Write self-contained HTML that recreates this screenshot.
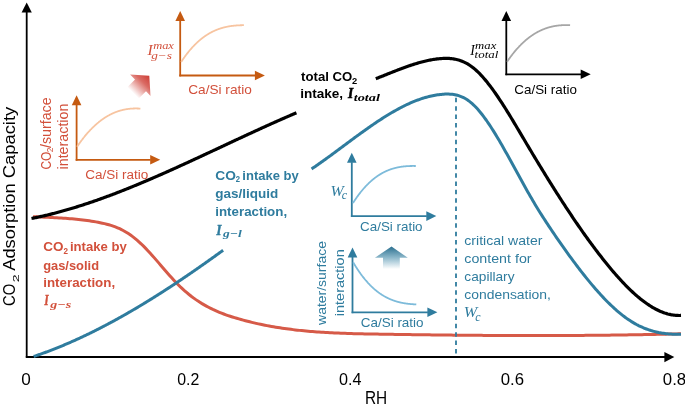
<!DOCTYPE html>
<html><head><meta charset="utf-8"><style>
html,body{margin:0;padding:0;background:#fff;width:685px;height:404px;overflow:hidden}
svg{display:block;will-change:transform}
</style></head><body>
<svg width="685" height="404" viewBox="0 0 685 404">
<rect width="685" height="404" fill="#fff"/>
<line x1="26.7" y1="357.4" x2="26.7" y2="12" stroke="#000" stroke-width="1.8"/>
<polygon points="26.70,2.50 21.60,12.50 31.80,12.50" fill="#000"/>
<line x1="25.8" y1="357.1" x2="665" y2="357.1" stroke="#000" stroke-width="2"/>
<polygon points="674.30,357.10 664.40,352.00 664.40,362.20" fill="#000"/>
<path d="M33.00,216.67 L35.17,216.77 L37.33,216.87 L39.50,216.96 L41.67,217.06 L43.84,217.15 L46.00,217.25 L48.17,217.35 L50.34,217.45 L52.51,217.55 L54.67,217.66 L56.84,217.78 L59.01,217.90 L61.17,218.03 L63.34,218.17 L65.51,218.31 L67.68,218.47 L69.84,218.64 L72.01,218.82 L74.18,219.02 L76.34,219.23 L78.51,219.45 L80.68,219.69 L82.85,219.95 L85.01,220.22 L87.18,220.51 L89.35,220.83 L91.52,221.16 L93.68,221.51 L95.85,221.89 L98.02,222.29 L100.18,222.72 L102.35,223.17 L104.52,223.66 L106.69,224.19 L108.85,224.77 L111.02,225.41 L113.19,226.11 L115.35,226.90 L117.52,227.76 L119.69,228.72 L121.86,229.78 L124.02,230.95 L126.19,232.21 L128.36,233.58 L130.53,235.06 L132.69,236.64 L134.86,238.33 L137.03,240.13 L139.19,242.03 L141.36,244.05 L143.53,246.17 L145.70,248.37 L147.86,250.66 L150.03,253.01 L152.20,255.42 L154.36,257.88 L156.53,260.37 L158.70,262.88 L160.87,265.40 L163.03,267.93 L165.20,270.45 L167.37,272.94 L169.54,275.41 L171.70,277.82 L173.87,280.19 L176.04,282.49 L178.20,284.71 L180.37,286.85 L182.54,288.89 L184.71,290.85 L186.87,292.71 L189.04,294.50 L191.21,296.21 L193.37,297.83 L195.54,299.39 L197.71,300.87 L199.88,302.28 L202.04,303.62 L204.21,304.90 L206.38,306.12 L208.55,307.28 L210.71,308.38 L212.88,309.44 L215.05,310.44 L217.21,311.39 L219.38,312.30 L221.55,313.17 L223.72,314.00 L225.88,314.79 L228.05,315.55 L230.22,316.27 L232.38,316.97 L234.55,317.65 L236.72,318.30 L238.89,318.93 L241.05,319.54 L243.22,320.14 L245.39,320.71 L247.56,321.28 L249.72,321.82 L251.89,322.35 L254.06,322.86 L256.22,323.36 L258.39,323.84 L260.56,324.30 L262.73,324.75 L264.89,325.19 L267.06,325.61 L269.23,326.02 L271.39,326.41 L273.56,326.79 L275.73,327.16 L277.90,327.51 L280.06,327.85 L282.23,328.18 L284.40,328.49 L286.57,328.79 L288.73,329.08 L290.90,329.36 L293.07,329.63 L295.23,329.89 L297.40,330.14 L299.57,330.37 L301.74,330.60 L303.90,330.81 L306.07,331.02 L308.24,331.21 L310.40,331.40 L312.57,331.58 L314.74,331.75 L316.91,331.91 L319.07,332.06 L321.24,332.21 L323.41,332.35 L325.58,332.48 L327.74,332.60 L329.91,332.72 L332.08,332.83 L334.24,332.93 L336.41,333.03 L338.58,333.12 L340.75,333.21 L342.91,333.29 L345.08,333.37 L347.25,333.44 L349.41,333.51 L351.58,333.57 L353.75,333.63 L355.92,333.69 L358.08,333.74 L360.25,333.79 L362.42,333.84 L364.59,333.89 L366.75,333.93 L368.92,333.97 L371.09,334.01 L373.25,334.05 L375.42,334.08 L377.59,334.12 L379.76,334.15 L381.92,334.19 L384.09,334.22 L386.26,334.26 L388.42,334.29 L390.59,334.32 L392.76,334.36 L394.93,334.39 L397.09,334.42 L399.26,334.45 L401.43,334.49 L403.60,334.52 L405.76,334.55 L407.93,334.58 L410.10,334.61 L412.26,334.64 L414.43,334.67 L416.60,334.70 L418.77,334.73 L420.93,334.75 L423.10,334.78 L425.27,334.81 L427.43,334.84 L429.60,334.86 L431.77,334.89 L433.94,334.92 L436.10,334.94 L438.27,334.97 L440.44,334.99 L442.61,335.01 L444.77,335.04 L446.94,335.06 L449.11,335.08 L451.27,335.11 L453.44,335.13 L455.61,335.15 L457.78,335.17 L459.94,335.19 L462.11,335.21 L464.28,335.23 L466.44,335.25 L468.61,335.27 L470.78,335.28 L472.95,335.30 L475.11,335.32 L477.28,335.33 L479.45,335.35 L481.62,335.36 L483.78,335.38 L485.95,335.39 L488.12,335.41 L490.28,335.42 L492.45,335.43 L494.62,335.44 L496.79,335.46 L498.95,335.47 L501.12,335.48 L503.29,335.49 L505.45,335.49 L507.62,335.50 L509.79,335.51 L511.96,335.52 L514.12,335.52 L516.29,335.53 L518.46,335.53 L520.63,335.54 L522.79,335.54 L524.96,335.55 L527.13,335.55 L529.29,335.55 L531.46,335.55 L533.63,335.55 L535.80,335.55 L537.96,335.55 L540.13,335.55 L542.30,335.55 L544.46,335.55 L546.63,335.54 L548.80,335.54 L550.97,335.54 L553.13,335.53 L555.30,335.52 L557.47,335.52 L559.64,335.51 L561.80,335.50 L563.97,335.49 L566.14,335.48 L568.30,335.47 L570.47,335.46 L572.64,335.45 L574.81,335.44 L576.97,335.42 L579.14,335.41 L581.31,335.39 L583.47,335.38 L585.64,335.36 L587.81,335.34 L589.98,335.33 L592.14,335.31 L594.31,335.29 L596.48,335.27 L598.65,335.25 L600.81,335.22 L602.98,335.20 L605.15,335.18 L607.31,335.15 L609.48,335.13 L611.65,335.10 L613.82,335.07 L615.98,335.05 L618.15,335.02 L620.32,334.99 L622.48,334.96 L624.65,334.93 L626.82,334.90 L628.99,334.86 L631.15,334.83 L633.32,334.79 L635.49,334.76 L637.66,334.72 L639.82,334.68 L641.99,334.65 L644.16,334.61 L646.32,334.57 L648.49,334.53 L650.66,334.48 L652.83,334.44 L654.99,334.40 L657.16,334.35 L659.33,334.31 L661.49,334.26 L663.66,334.21 L665.83,334.16 L668.00,334.11 L670.16,334.06 L672.33,334.01 L674.50,333.96 L676.67,333.91 L678.83,333.85 L681.00,333.80" fill="none" stroke="#D65A48" stroke-width="3"/>
<line x1="456" y1="97.8" x2="456" y2="357" stroke="#2F7C9E" stroke-width="1.8" stroke-dasharray="4.5 3.87"/>
<path d="M33.70,356.48 L34.33,356.27 L34.97,356.06 L35.60,355.84 L36.23,355.63 L36.87,355.41 L37.50,355.19 L38.13,354.98 L38.77,354.76 L39.40,354.53 L40.03,354.31 L40.67,354.09 L41.30,353.86 L41.93,353.64 L42.57,353.41 L43.20,353.18 L43.84,352.95 L44.47,352.72 L45.10,352.49 L45.74,352.26 L46.37,352.02 L47.00,351.79 L47.64,351.55 L48.27,351.31 L48.90,351.08 L49.54,350.84 L50.17,350.59 L50.80,350.35 L51.44,350.11 L52.07,349.86 L52.70,349.62 L53.34,349.37 L53.97,349.12 L54.60,348.87 L55.24,348.62 L55.87,348.37 L56.50,348.12 L57.14,347.86 L57.77,347.61 L58.40,347.35 L59.04,347.10 L59.67,346.84 L60.30,346.58 L60.94,346.32 L61.57,346.06 L62.21,345.79 L62.84,345.53 L63.47,345.26 L64.11,345.00 L64.74,344.73 L65.37,344.46 L66.01,344.19 L66.64,343.92 L67.27,343.65 L67.91,343.38 L68.54,343.10 L69.17,342.83 L69.81,342.55 L70.44,342.28 L71.07,342.00 L71.71,341.72 L72.34,341.44 L72.97,341.16 L73.61,340.88 L74.24,340.59 L74.87,340.31 L75.51,340.02 L76.14,339.74 L76.77,339.45 L77.41,339.16 L78.04,338.87 L78.67,338.58 L79.31,338.29 L79.94,337.99 L80.57,337.70 L81.21,337.41 L81.84,337.11 L82.48,336.81 L83.11,336.51 L83.74,336.22 L84.38,335.92 L85.01,335.61 L85.64,335.31 L86.28,335.01 L86.91,334.71 L87.54,334.40 L88.18,334.09 L88.81,333.79 L89.44,333.48 L90.08,333.17 L90.71,332.86 L91.34,332.55 L91.98,332.24 L92.61,331.92 L93.24,331.61 L93.88,331.29 L94.51,330.98 L95.14,330.66 L95.78,330.34 L96.41,330.02 L97.04,329.70 L97.68,329.38 L98.31,329.06 L98.94,328.74 L99.58,328.41 L100.21,328.09 L100.85,327.76 L101.48,327.44 L102.11,327.11 L102.75,326.78 L103.38,326.45 L104.01,326.12 L104.65,325.79 L105.28,325.46 L105.91,325.13 L106.55,324.79 L107.18,324.46 L107.81,324.12 L108.45,323.78 L109.08,323.45 L109.71,323.11 L110.35,322.77 L110.98,322.43 L111.61,322.08 L112.25,321.74 L112.88,321.40 L113.51,321.06 L114.15,320.71 L114.78,320.36 L115.41,320.02 L116.05,319.67 L116.68,319.32 L117.31,318.97 L117.95,318.62 L118.58,318.27 L119.22,317.92 L119.85,317.56 L120.48,317.21 L121.12,316.86 L121.75,316.50 L122.38,316.14 L123.02,315.79 L123.65,315.43 L124.28,315.07 L124.92,314.71 L125.55,314.35 L126.18,313.99 L126.82,313.62 L127.45,313.26 L128.08,312.90 L128.72,312.53 L129.35,312.17 L129.98,311.80 L130.62,311.43 L131.25,311.06 L131.88,310.69 L132.52,310.32 L133.15,309.95 L133.78,309.58 L134.42,309.21 L135.05,308.84 L135.68,308.46 L136.32,308.09 L136.95,307.71 L137.58,307.34 L138.22,306.96 L138.85,306.58 L139.49,306.20 L140.12,305.82 L140.75,305.44 L141.39,305.06 L142.02,304.68 L142.65,304.30 L143.29,303.91 L143.92,303.53 L144.55,303.14 L145.19,302.76 L145.82,302.37 L146.45,301.98 L147.09,301.59 L147.72,301.21 L148.35,300.82 L148.99,300.43 L149.62,300.03 L150.25,299.64 L150.89,299.25 L151.52,298.86 L152.15,298.46 L152.79,298.07 L153.42,297.67 L154.05,297.28 L154.69,296.88 L155.32,296.48 L155.95,296.08 L156.59,295.68 L157.22,295.28 L157.86,294.88 L158.49,294.48 L159.12,294.08 L159.76,293.68 L160.39,293.27 L161.02,292.87 L161.66,292.46 L162.29,292.06 L162.92,291.65 L163.56,291.24 L164.19,290.84 L164.82,290.43 L165.46,290.02 L166.09,289.61 L166.72,289.20 L167.36,288.79 L167.99,288.38 L168.62,287.96 L169.26,287.55 L169.89,287.14 L170.52,286.72 L171.16,286.31 L171.79,285.89 L172.42,285.47 L173.06,285.06 L173.69,284.64 L174.32,284.22 L174.96,283.80 L175.59,283.38 L176.23,282.96 L176.86,282.54 L177.49,282.12 L178.13,281.70 L178.76,281.27 L179.39,280.85 L180.03,280.43 L180.66,280.00 L181.29,279.58 L181.93,279.15 L182.56,278.72 L183.19,278.30 L183.83,277.87 L184.46,277.44 L185.09,277.01 L185.73,276.58 L186.36,276.15 L186.99,275.72 L187.63,275.29 L188.26,274.86 L188.89,274.42 L189.53,273.99 L190.16,273.56 L190.79,273.12 L191.43,272.69 L192.06,272.25 L192.69,271.82 L193.33,271.38 L193.96,270.94 L194.59,270.50 L195.23,270.07 L195.86,269.63 L196.50,269.19 L197.13,268.75 L197.76,268.31 L198.40,267.87 L199.03,267.42 L199.66,266.98 L200.30,266.54 L200.93,266.10 L201.56,265.65 L202.20,265.21 L202.83,264.76 L203.46,264.32 L204.10,263.87 L204.73,263.42 L205.36,262.98 L206.00,262.53 L206.63,262.08 L207.26,261.63 L207.90,261.18 L208.53,260.73 L209.16,260.28 L209.80,259.83 L210.43,259.38 L211.06,258.93 L211.70,258.48 L212.33,258.03 L212.96,257.57 L213.60,257.12 L214.23,256.67 L214.87,256.21 L215.50,255.76 L216.13,255.30 L216.77,254.84 L217.40,254.39 L218.03,253.93 L218.67,253.47 L219.30,253.02 L219.93,252.56 L220.57,252.10 L221.20,251.64 L221.83,251.18 L222.47,250.72 L223.10,250.26" fill="none" stroke="#2F7C9E" stroke-width="3"/>
<path d="M311.60,168.95 L312.84,168.11 L314.07,167.27 L315.31,166.42 L316.54,165.57 L317.78,164.70 L319.01,163.84 L320.25,162.97 L321.48,162.09 L322.72,161.21 L323.95,160.33 L325.19,159.44 L326.43,158.54 L327.66,157.65 L328.90,156.75 L330.13,155.85 L331.37,154.94 L332.60,154.03 L333.84,153.13 L335.07,152.21 L336.31,151.30 L337.54,150.39 L338.78,149.47 L340.02,148.55 L341.25,147.64 L342.49,146.72 L343.72,145.80 L344.96,144.88 L346.19,143.96 L347.43,143.05 L348.66,142.13 L349.90,141.21 L351.13,140.30 L352.37,139.39 L353.61,138.48 L354.84,137.57 L356.08,136.66 L357.31,135.76 L358.55,134.86 L359.78,133.96 L361.02,133.07 L362.25,132.18 L363.49,131.29 L364.72,130.41 L365.96,129.53 L367.20,128.66 L368.43,127.79 L369.67,126.92 L370.90,126.07 L372.14,125.21 L373.37,124.37 L374.61,123.53 L375.84,122.69 L377.08,121.87 L378.31,121.05 L379.55,120.23 L380.79,119.43 L382.02,118.63 L383.26,117.84 L384.49,117.06 L385.73,116.29 L386.96,115.52 L388.20,114.77 L389.43,114.02 L390.67,113.28 L391.90,112.56 L393.14,111.84 L394.38,111.13 L395.61,110.44 L396.85,109.75 L398.08,109.08 L399.32,108.41 L400.55,107.76 L401.79,107.12 L403.02,106.49 L404.26,105.88 L405.49,105.27 L406.73,104.68 L407.97,104.11 L409.20,103.54 L410.44,102.99 L411.67,102.46 L412.91,101.93 L414.14,101.43 L415.38,100.93 L416.61,100.45 L417.85,99.99 L419.08,99.54 L420.32,99.11 L421.56,98.69 L422.79,98.29 L424.03,97.91 L425.26,97.54 L426.50,97.19 L427.73,96.85 L428.97,96.54 L430.20,96.24 L431.44,95.96 L432.67,95.70 L433.91,95.45 L435.15,95.22 L436.38,95.02 L437.62,94.83 L438.85,94.66 L440.09,94.51 L441.32,94.38 L442.56,94.28 L443.79,94.19 L445.03,94.12 L446.26,94.08 L447.50,94.07 L448.74,94.09 L449.97,94.15 L451.21,94.24 L452.44,94.36 L453.68,94.53 L454.91,94.74 L456.15,95.00 L457.38,95.30 L458.62,95.66 L459.85,96.07 L461.09,96.54 L462.33,97.06 L463.56,97.64 L464.80,98.29 L466.03,99.01 L467.27,99.79 L468.50,100.65 L469.74,101.58 L470.97,102.58 L472.21,103.65 L473.44,104.79 L474.68,105.99 L475.92,107.26 L477.15,108.60 L478.39,109.99 L479.62,111.44 L480.86,112.95 L482.09,114.51 L483.33,116.12 L484.56,117.79 L485.80,119.50 L487.03,121.25 L488.27,123.05 L489.51,124.89 L490.74,126.77 L491.98,128.69 L493.21,130.64 L494.45,132.63 L495.68,134.64 L496.92,136.69 L498.15,138.76 L499.39,140.86 L500.62,142.97 L501.86,145.11 L503.09,147.27 L504.33,149.45 L505.57,151.64 L506.80,153.85 L508.04,156.07 L509.27,158.30 L510.51,160.54 L511.74,162.78 L512.98,165.04 L514.21,167.29 L515.45,169.55 L516.68,171.81 L517.92,174.07 L519.16,176.33 L520.39,178.58 L521.63,180.82 L522.86,183.06 L524.10,185.29 L525.33,187.51 L526.57,189.71 L527.80,191.90 L529.04,194.08 L530.27,196.23 L531.51,198.37 L532.75,200.49 L533.98,202.58 L535.22,204.65 L536.45,206.69 L537.69,208.71 L538.92,210.71 L540.16,212.69 L541.39,214.65 L542.63,216.59 L543.86,218.51 L545.10,220.41 L546.34,222.31 L547.57,224.18 L548.81,226.05 L550.04,227.90 L551.28,229.75 L552.51,231.58 L553.75,233.41 L554.98,235.23 L556.22,237.04 L557.45,238.84 L558.69,240.63 L559.93,242.41 L561.16,244.18 L562.40,245.94 L563.63,247.69 L564.87,249.43 L566.10,251.16 L567.34,252.88 L568.57,254.59 L569.81,256.29 L571.04,257.98 L572.28,259.65 L573.52,261.32 L574.75,262.98 L575.99,264.62 L577.22,266.25 L578.46,267.87 L579.69,269.48 L580.93,271.08 L582.16,272.66 L583.40,274.23 L584.63,275.79 L585.87,277.34 L587.11,278.87 L588.34,280.39 L589.58,281.89 L590.81,283.38 L592.05,284.85 L593.28,286.31 L594.52,287.75 L595.75,289.17 L596.99,290.58 L598.22,291.97 L599.46,293.35 L600.70,294.70 L601.93,296.04 L603.17,297.36 L604.40,298.66 L605.64,299.94 L606.87,301.20 L608.11,302.44 L609.34,303.66 L610.58,304.85 L611.81,306.03 L613.05,307.19 L614.29,308.32 L615.52,309.43 L616.76,310.52 L617.99,311.58 L619.23,312.62 L620.46,313.64 L621.70,314.63 L622.93,315.60 L624.17,316.54 L625.40,317.46 L626.64,318.35 L627.88,319.21 L629.11,320.05 L630.35,320.86 L631.58,321.65 L632.82,322.40 L634.05,323.13 L635.29,323.83 L636.52,324.51 L637.76,325.16 L638.99,325.78 L640.23,326.37 L641.47,326.94 L642.70,327.49 L643.94,328.01 L645.17,328.51 L646.41,328.98 L647.64,329.43 L648.88,329.86 L650.11,330.26 L651.35,330.64 L652.58,331.01 L653.82,331.34 L655.06,331.66 L656.29,331.96 L657.53,332.24 L658.76,332.50 L660.00,332.73 L661.23,332.95 L662.47,333.16 L663.70,333.34 L664.94,333.50 L666.17,333.65 L667.41,333.78 L668.65,333.89 L669.88,333.99 L671.12,334.07 L672.35,334.14 L673.59,334.19 L674.82,334.23 L676.06,334.25 L677.29,334.26 L678.53,334.26 L679.76,334.24 L681.00,334.21" fill="none" stroke="#2F7C9E" stroke-width="3"/>
<path d="M31.50,218.47 L32.39,218.30 L33.27,218.12 L34.16,217.94 L35.04,217.76 L35.93,217.57 L36.82,217.39 L37.70,217.20 L38.59,217.01 L39.47,216.81 L40.36,216.62 L41.25,216.42 L42.13,216.22 L43.02,216.02 L43.90,215.82 L44.79,215.61 L45.68,215.40 L46.56,215.19 L47.45,214.98 L48.33,214.77 L49.22,214.55 L50.11,214.33 L50.99,214.11 L51.88,213.89 L52.76,213.66 L53.65,213.44 L54.53,213.21 L55.42,212.98 L56.31,212.75 L57.19,212.51 L58.08,212.28 L58.96,212.04 L59.85,211.80 L60.74,211.56 L61.62,211.31 L62.51,211.07 L63.39,210.82 L64.28,210.57 L65.17,210.32 L66.05,210.07 L66.94,209.81 L67.82,209.56 L68.71,209.30 L69.60,209.04 L70.48,208.78 L71.37,208.51 L72.25,208.25 L73.14,207.98 L74.03,207.71 L74.91,207.44 L75.80,207.17 L76.68,206.89 L77.57,206.62 L78.46,206.34 L79.34,206.06 L80.23,205.78 L81.11,205.50 L82.00,205.21 L82.89,204.93 L83.77,204.64 L84.66,204.35 L85.54,204.06 L86.43,203.77 L87.32,203.47 L88.20,203.18 L89.09,202.88 L89.97,202.58 L90.86,202.28 L91.74,201.98 L92.63,201.68 L93.52,201.37 L94.40,201.06 L95.29,200.76 L96.17,200.45 L97.06,200.14 L97.95,199.82 L98.83,199.51 L99.72,199.19 L100.60,198.88 L101.49,198.56 L102.38,198.24 L103.26,197.92 L104.15,197.60 L105.03,197.27 L105.92,196.95 L106.81,196.62 L107.69,196.29 L108.58,195.97 L109.46,195.64 L110.35,195.30 L111.24,194.97 L112.12,194.64 L113.01,194.30 L113.89,193.96 L114.78,193.63 L115.67,193.29 L116.55,192.95 L117.44,192.60 L118.32,192.26 L119.21,191.92 L120.10,191.57 L120.98,191.22 L121.87,190.88 L122.75,190.53 L123.64,190.18 L124.53,189.83 L125.41,189.47 L126.30,189.12 L127.18,188.77 L128.07,188.41 L128.95,188.05 L129.84,187.69 L130.73,187.34 L131.61,186.97 L132.50,186.61 L133.38,186.25 L134.27,185.89 L135.16,185.52 L136.04,185.16 L136.93,184.79 L137.81,184.42 L138.70,184.06 L139.59,183.69 L140.47,183.32 L141.36,182.95 L142.24,182.57 L143.13,182.20 L144.02,181.83 L144.90,181.45 L145.79,181.08 L146.67,180.70 L147.56,180.32 L148.45,179.94 L149.33,179.56 L150.22,179.18 L151.10,178.80 L151.99,178.42 L152.88,178.04 L153.76,177.65 L154.65,177.27 L155.53,176.88 L156.42,176.50 L157.31,176.11 L158.19,175.72 L159.08,175.34 L159.96,174.95 L160.85,174.56 L161.74,174.17 L162.62,173.78 L163.51,173.39 L164.39,172.99 L165.28,172.60 L166.16,172.21 L167.05,171.81 L167.94,171.42 L168.82,171.02 L169.71,170.62 L170.59,170.23 L171.48,169.83 L172.37,169.43 L173.25,169.03 L174.14,168.63 L175.02,168.24 L175.91,167.83 L176.80,167.43 L177.68,167.03 L178.57,166.63 L179.45,166.23 L180.34,165.83 L181.23,165.42 L182.11,165.02 L183.00,164.61 L183.88,164.21 L184.77,163.80 L185.66,163.40 L186.54,162.99 L187.43,162.59 L188.31,162.18 L189.20,161.77 L190.09,161.37 L190.97,160.96 L191.86,160.55 L192.74,160.14 L193.63,159.73 L194.52,159.32 L195.40,158.91 L196.29,158.50 L197.17,158.09 L198.06,157.68 L198.95,157.27 L199.83,156.86 L200.72,156.45 L201.60,156.04 L202.49,155.63 L203.37,155.21 L204.26,154.80 L205.15,154.39 L206.03,153.98 L206.92,153.56 L207.80,153.15 L208.69,152.74 L209.58,152.33 L210.46,151.91 L211.35,151.50 L212.23,151.08 L213.12,150.67 L214.01,150.26 L214.89,149.84 L215.78,149.43 L216.66,149.02 L217.55,148.60 L218.44,148.19 L219.32,147.77 L220.21,147.36 L221.09,146.94 L221.98,146.53 L222.87,146.12 L223.75,145.70 L224.64,145.29 L225.52,144.87 L226.41,144.46 L227.30,144.05 L228.18,143.63 L229.07,143.22 L229.95,142.80 L230.84,142.39 L231.73,141.98 L232.61,141.56 L233.50,141.15 L234.38,140.74 L235.27,140.32 L236.16,139.91 L237.04,139.50 L237.93,139.09 L238.81,138.67 L239.70,138.26 L240.58,137.85 L241.47,137.44 L242.36,137.03 L243.24,136.62 L244.13,136.21 L245.01,135.80 L245.90,135.39 L246.79,134.98 L247.67,134.57 L248.56,134.16 L249.44,133.75 L250.33,133.34 L251.22,132.93 L252.10,132.52 L252.99,132.11 L253.87,131.71 L254.76,131.30 L255.65,130.89 L256.53,130.49 L257.42,130.08 L258.30,129.68 L259.19,129.27 L260.08,128.87 L260.96,128.46 L261.85,128.06 L262.73,127.66 L263.62,127.26 L264.51,126.85 L265.39,126.45 L266.28,126.05 L267.16,125.65 L268.05,125.25 L268.94,124.85 L269.82,124.45 L270.71,124.05 L271.59,123.66 L272.48,123.26 L273.37,122.86 L274.25,122.47 L275.14,122.07 L276.02,121.68 L276.91,121.28 L277.79,120.89 L278.68,120.50 L279.57,120.11 L280.45,119.72 L281.34,119.33 L282.22,118.94 L283.11,118.55 L284.00,118.16 L284.88,117.77 L285.77,117.38 L286.65,117.00 L287.54,116.61 L288.43,116.23 L289.31,115.84 L290.20,115.46 L291.08,115.08 L291.97,114.70 L292.86,114.32 L293.74,113.94 L294.63,113.56 L295.51,113.18 L296.40,112.81" fill="none" stroke="#000" stroke-width="3.2"/>
<path d="M375.80,78.71 L376.82,78.31 L377.84,77.91 L378.86,77.51 L379.88,77.11 L380.90,76.70 L381.92,76.30 L382.95,75.89 L383.97,75.49 L384.99,75.08 L386.01,74.67 L387.03,74.26 L388.05,73.85 L389.07,73.45 L390.09,73.04 L391.11,72.63 L392.13,72.23 L393.15,71.82 L394.17,71.42 L395.19,71.02 L396.21,70.62 L397.24,70.23 L398.26,69.83 L399.28,69.44 L400.30,69.05 L401.32,68.67 L402.34,68.28 L403.36,67.90 L404.38,67.53 L405.40,67.16 L406.42,66.79 L407.44,66.43 L408.46,66.07 L409.48,65.72 L410.51,65.38 L411.53,65.03 L412.55,64.70 L413.57,64.37 L414.59,64.04 L415.61,63.73 L416.63,63.42 L417.65,63.11 L418.67,62.82 L419.69,62.53 L420.71,62.25 L421.73,61.97 L422.75,61.71 L423.77,61.45 L424.80,61.20 L425.82,60.96 L426.84,60.73 L427.86,60.51 L428.88,60.29 L429.90,60.09 L430.92,59.90 L431.94,59.71 L432.96,59.54 L433.98,59.38 L435.00,59.23 L436.02,59.09 L437.04,58.96 L438.06,58.84 L439.09,58.73 L440.11,58.64 L441.13,58.56 L442.15,58.49 L443.17,58.44 L444.19,58.40 L445.21,58.37 L446.23,58.37 L447.25,58.38 L448.27,58.41 L449.29,58.47 L450.31,58.54 L451.33,58.63 L452.36,58.75 L453.38,58.89 L454.40,59.06 L455.42,59.25 L456.44,59.48 L457.46,59.72 L458.48,60.00 L459.50,60.31 L460.52,60.65 L461.54,61.02 L462.56,61.42 L463.58,61.86 L464.60,62.33 L465.62,62.84 L466.65,63.38 L467.67,63.96 L468.69,64.59 L469.71,65.25 L470.73,65.95 L471.75,66.69 L472.77,67.47 L473.79,68.29 L474.81,69.15 L475.83,70.05 L476.85,70.98 L477.87,71.95 L478.89,72.95 L479.92,73.98 L480.94,75.05 L481.96,76.15 L482.98,77.29 L484.00,78.45 L485.02,79.64 L486.04,80.86 L487.06,82.11 L488.08,83.39 L489.10,84.70 L490.12,86.03 L491.14,87.38 L492.16,88.76 L493.18,90.16 L494.21,91.59 L495.23,93.03 L496.25,94.50 L497.27,95.99 L498.29,97.49 L499.31,99.02 L500.33,100.56 L501.35,102.12 L502.37,103.70 L503.39,105.29 L504.41,106.89 L505.43,108.51 L506.45,110.14 L507.47,111.79 L508.50,113.44 L509.52,115.11 L510.54,116.78 L511.56,118.46 L512.58,120.15 L513.60,121.85 L514.62,123.56 L515.64,125.27 L516.66,126.98 L517.68,128.70 L518.70,130.42 L519.72,132.15 L520.74,133.87 L521.77,135.60 L522.79,137.32 L523.81,139.05 L524.83,140.77 L525.85,142.49 L526.87,144.21 L527.89,145.92 L528.91,147.63 L529.93,149.34 L530.95,151.05 L531.97,152.75 L532.99,154.45 L534.01,156.15 L535.03,157.85 L536.06,159.54 L537.08,161.22 L538.10,162.91 L539.12,164.59 L540.14,166.27 L541.16,167.94 L542.18,169.61 L543.20,171.27 L544.22,172.94 L545.24,174.59 L546.26,176.25 L547.28,177.90 L548.30,179.54 L549.33,181.18 L550.35,182.82 L551.37,184.45 L552.39,186.07 L553.41,187.70 L554.43,189.31 L555.45,190.93 L556.47,192.53 L557.49,194.14 L558.51,195.73 L559.53,197.33 L560.55,198.91 L561.57,200.50 L562.59,202.07 L563.62,203.64 L564.64,205.21 L565.66,206.77 L566.68,208.32 L567.70,209.87 L568.72,211.41 L569.74,212.94 L570.76,214.47 L571.78,216.00 L572.80,217.52 L573.82,219.03 L574.84,220.53 L575.86,222.03 L576.88,223.52 L577.91,225.00 L578.93,226.48 L579.95,227.95 L580.97,229.42 L581.99,230.87 L583.01,232.32 L584.03,233.77 L585.05,235.20 L586.07,236.63 L587.09,238.05 L588.11,239.46 L589.13,240.87 L590.15,242.27 L591.18,243.66 L592.20,245.04 L593.22,246.41 L594.24,247.78 L595.26,249.14 L596.28,250.49 L597.30,251.83 L598.32,253.16 L599.34,254.49 L600.36,255.81 L601.38,257.11 L602.40,258.41 L603.42,259.70 L604.44,260.99 L605.47,262.26 L606.49,263.52 L607.51,264.78 L608.53,266.02 L609.55,267.26 L610.57,268.49 L611.59,269.70 L612.61,270.91 L613.63,272.10 L614.65,273.29 L615.67,274.46 L616.69,275.62 L617.71,276.77 L618.74,277.91 L619.76,279.04 L620.78,280.15 L621.80,281.25 L622.82,282.34 L623.84,283.41 L624.86,284.48 L625.88,285.53 L626.90,286.56 L627.92,287.58 L628.94,288.59 L629.96,289.58 L630.98,290.56 L632.00,291.52 L633.03,292.47 L634.05,293.40 L635.07,294.32 L636.09,295.22 L637.11,296.10 L638.13,296.97 L639.15,297.82 L640.17,298.66 L641.19,299.47 L642.21,300.27 L643.23,301.06 L644.25,301.82 L645.27,302.57 L646.29,303.30 L647.32,304.01 L648.34,304.70 L649.36,305.37 L650.38,306.02 L651.40,306.65 L652.42,307.27 L653.44,307.86 L654.46,308.43 L655.48,308.99 L656.50,309.52 L657.52,310.03 L658.54,310.52 L659.56,310.99 L660.59,311.43 L661.61,311.86 L662.63,312.26 L663.65,312.64 L664.67,313.00 L665.69,313.33 L666.71,313.64 L667.73,313.93 L668.75,314.19 L669.77,314.43 L670.79,314.65 L671.81,314.84 L672.83,315.01 L673.85,315.15 L674.88,315.27 L675.90,315.36 L676.92,315.42 L677.94,315.46 L678.96,315.48 L679.98,315.47 L681.00,315.43" fill="none" stroke="#000" stroke-width="3.2"/>
<line x1="76.6" y1="160.70000000000002" x2="76.6" y2="104.8" stroke="#C55A11" stroke-width="1.8"/>
<polygon points="76.60,95.30 71.80,105.30 81.40,105.30" fill="#C55A11"/>
<line x1="75.69999999999999" y1="159.8" x2="150.7" y2="159.8" stroke="#C55A11" stroke-width="1.8"/>
<polygon points="160.20,159.80 150.20,155.00 150.20,164.60" fill="#C55A11"/>
<path d="M77.00,146.82 L77.21,146.50 L77.42,146.19 L77.64,145.88 L77.85,145.57 L78.06,145.26 L78.27,144.96 L78.48,144.65 L78.70,144.35 L78.91,144.05 L79.12,143.75 L79.33,143.45 L79.54,143.15 L79.76,142.85 L79.97,142.56 L80.18,142.27 L80.39,141.98 L80.60,141.69 L80.82,141.40 L81.03,141.11 L81.24,140.83 L81.45,140.54 L81.66,140.26 L81.88,139.98 L82.09,139.70 L82.30,139.42 L82.51,139.15 L82.73,138.87 L82.94,138.60 L83.15,138.33 L83.36,138.06 L83.57,137.79 L83.79,137.52 L84.00,137.25 L84.21,136.99 L84.42,136.72 L84.63,136.46 L84.85,136.20 L85.06,135.94 L85.27,135.69 L85.48,135.43 L85.69,135.18 L85.91,134.92 L86.12,134.67 L86.33,134.42 L86.54,134.17 L86.75,133.92 L86.97,133.68 L87.18,133.43 L87.39,133.19 L87.60,132.95 L87.81,132.71 L88.03,132.47 L88.24,132.23 L88.45,132.00 L88.66,131.76 L88.87,131.53 L89.09,131.29 L89.30,131.06 L89.51,130.83 L89.72,130.61 L89.93,130.38 L90.15,130.15 L90.36,129.93 L90.57,129.71 L90.78,129.49 L90.99,129.27 L91.21,129.05 L91.42,128.83 L91.63,128.62 L91.84,128.40 L92.05,128.19 L92.27,127.98 L92.48,127.77 L92.69,127.56 L92.90,127.35 L93.12,127.14 L93.33,126.94 L93.54,126.73 L93.75,126.53 L93.96,126.33 L94.18,126.13 L94.39,125.93 L94.60,125.74 L94.81,125.54 L95.02,125.35 L95.24,125.15 L95.45,124.96 L95.66,124.77 L95.87,124.58 L96.08,124.39 L96.30,124.20 L96.51,124.02 L96.72,123.83 L96.93,123.65 L97.14,123.47 L97.36,123.29 L97.57,123.11 L97.78,122.93 L97.99,122.76 L98.20,122.58 L98.42,122.41 L98.63,122.23 L98.84,122.06 L99.05,121.89 L99.26,121.72 L99.48,121.55 L99.69,121.39 L99.90,121.22 L100.11,121.06 L100.32,120.89 L100.54,120.73 L100.75,120.57 L100.96,120.41 L101.17,120.25 L101.38,120.10 L101.60,119.94 L101.81,119.79 L102.02,119.63 L102.23,119.48 L102.44,119.33 L102.66,119.18 L102.87,119.03 L103.08,118.88 L103.29,118.74 L103.51,118.59 L103.72,118.45 L103.93,118.30 L104.14,118.16 L104.35,118.02 L104.57,117.88 L104.78,117.75 L104.99,117.61 L105.20,117.47 L105.41,117.34 L105.63,117.20 L105.84,117.07 L106.05,116.94 L106.26,116.81 L106.47,116.68 L106.69,116.55 L106.90,116.43 L107.11,116.30 L107.32,116.18 L107.53,116.05 L107.75,115.93 L107.96,115.81 L108.17,115.69 L108.38,115.57 L108.59,115.45 L108.81,115.34 L109.02,115.22 L109.23,115.11 L109.44,114.99 L109.65,114.88 L109.87,114.77 L110.08,114.66 L110.29,114.55 L110.50,114.44 L110.71,114.34 L110.93,114.23 L111.14,114.13 L111.35,114.02 L111.56,113.92 L111.77,113.82 L111.99,113.72 L112.20,113.62 L112.41,113.52 L112.62,113.42 L112.83,113.33 L113.05,113.23 L113.26,113.14 L113.47,113.05 L113.68,112.95 L113.89,112.86 L114.11,112.77 L114.32,112.68 L114.53,112.60 L114.74,112.51 L114.96,112.42 L115.17,112.34 L115.38,112.25 L115.59,112.17 L115.80,112.09 L116.02,112.01 L116.23,111.93 L116.44,111.85 L116.65,111.77 L116.86,111.70 L117.08,111.62 L117.29,111.55 L117.50,111.47 L117.71,111.40 L117.92,111.33 L118.14,111.26 L118.35,111.19 L118.56,111.12 L118.77,111.05 L118.98,110.98 L119.20,110.92 L119.41,110.85 L119.62,110.79 L119.83,110.72 L120.04,110.66 L120.26,110.60 L120.47,110.54 L120.68,110.48 L120.89,110.42 L121.10,110.36 L121.32,110.31 L121.53,110.25 L121.74,110.20 L121.95,110.14 L122.16,110.09 L122.38,110.04 L122.59,109.98 L122.80,109.93 L123.01,109.89 L123.22,109.84 L123.44,109.79 L123.65,109.74 L123.86,109.70 L124.07,109.65 L124.28,109.61 L124.50,109.56 L124.71,109.52 L124.92,109.48 L125.13,109.44 L125.35,109.40 L125.56,109.36 L125.77,109.32 L125.98,109.29 L126.19,109.25 L126.41,109.22 L126.62,109.18 L126.83,109.15 L127.04,109.11 L127.25,109.08 L127.47,109.05 L127.68,109.02 L127.89,108.99 L128.10,108.96 L128.31,108.94 L128.53,108.91 L128.74,108.88 L128.95,108.86 L129.16,108.83 L129.37,108.81 L129.59,108.79 L129.80,108.76 L130.01,108.74 L130.22,108.72 L130.43,108.70 L130.65,108.68 L130.86,108.67 L131.07,108.65 L131.28,108.63 L131.49,108.62 L131.71,108.60 L131.92,108.59 L132.13,108.58 L132.34,108.56 L132.55,108.55 L132.77,108.54 L132.98,108.53 L133.19,108.52 L133.40,108.51 L133.61,108.50 L133.83,108.50 L134.04,108.49 L134.25,108.48 L134.46,108.48 L134.67,108.47 L134.89,108.47 L135.10,108.47 L135.31,108.47 L135.52,108.47 L135.74,108.46 L135.95,108.46 L136.16,108.47 L136.37,108.47 L136.58,108.47 L136.80,108.47 L137.01,108.48 L137.22,108.48 L137.43,108.49 L137.64,108.49 L137.86,108.50 L138.07,108.51 L138.28,108.51 L138.49,108.52 L138.70,108.53 L138.92,108.54 L139.13,108.55 L139.34,108.56 L139.55,108.58 L139.76,108.59 L139.98,108.60 L140.19,108.62 L140.40,108.63" fill="none" stroke="#F7C4A0" stroke-width="1.8"/>
<line x1="180.2" y1="76.4" x2="180.2" y2="20.6" stroke="#C55A11" stroke-width="1.8"/>
<polygon points="180.20,11.10 175.40,21.10 185.00,21.10" fill="#C55A11"/>
<line x1="179.29999999999998" y1="75.5" x2="255.39999999999998" y2="75.5" stroke="#C55A11" stroke-width="1.8"/>
<polygon points="264.90,75.50 254.90,70.70 254.90,80.30" fill="#C55A11"/>
<path d="M181.20,61.89 L181.41,61.57 L181.62,61.25 L181.83,60.94 L182.04,60.63 L182.25,60.32 L182.46,60.01 L182.67,59.70 L182.88,59.39 L183.09,59.09 L183.30,58.79 L183.51,58.49 L183.72,58.19 L183.93,57.89 L184.14,57.60 L184.35,57.30 L184.56,57.01 L184.76,56.72 L184.97,56.43 L185.18,56.15 L185.39,55.86 L185.60,55.58 L185.81,55.30 L186.02,55.02 L186.23,54.74 L186.44,54.47 L186.65,54.19 L186.86,53.92 L187.07,53.65 L187.28,53.38 L187.49,53.11 L187.70,52.84 L187.91,52.58 L188.12,52.32 L188.33,52.06 L188.54,51.80 L188.75,51.54 L188.96,51.28 L189.17,51.03 L189.38,50.77 L189.59,50.52 L189.80,50.27 L190.01,50.03 L190.22,49.78 L190.43,49.53 L190.64,49.29 L190.85,49.05 L191.06,48.81 L191.27,48.57 L191.48,48.33 L191.68,48.10 L191.89,47.86 L192.10,47.63 L192.31,47.40 L192.52,47.17 L192.73,46.94 L192.94,46.72 L193.15,46.49 L193.36,46.27 L193.57,46.05 L193.78,45.83 L193.99,45.61 L194.20,45.39 L194.41,45.18 L194.62,44.96 L194.83,44.75 L195.04,44.54 L195.25,44.33 L195.46,44.12 L195.67,43.92 L195.88,43.71 L196.09,43.51 L196.30,43.30 L196.51,43.10 L196.72,42.90 L196.93,42.71 L197.14,42.51 L197.35,42.32 L197.56,42.12 L197.77,41.93 L197.98,41.74 L198.19,41.55 L198.40,41.36 L198.61,41.17 L198.81,40.99 L199.02,40.81 L199.23,40.62 L199.44,40.44 L199.65,40.26 L199.86,40.08 L200.07,39.91 L200.28,39.73 L200.49,39.56 L200.70,39.39 L200.91,39.21 L201.12,39.04 L201.33,38.88 L201.54,38.71 L201.75,38.54 L201.96,38.38 L202.17,38.21 L202.38,38.05 L202.59,37.89 L202.80,37.73 L203.01,37.57 L203.22,37.42 L203.43,37.26 L203.64,37.11 L203.85,36.95 L204.06,36.80 L204.27,36.65 L204.48,36.50 L204.69,36.35 L204.90,36.21 L205.11,36.06 L205.32,35.92 L205.53,35.77 L205.73,35.63 L205.94,35.49 L206.15,35.35 L206.36,35.21 L206.57,35.08 L206.78,34.94 L206.99,34.81 L207.20,34.67 L207.41,34.54 L207.62,34.41 L207.83,34.28 L208.04,34.15 L208.25,34.02 L208.46,33.90 L208.67,33.77 L208.88,33.65 L209.09,33.53 L209.30,33.40 L209.51,33.28 L209.72,33.16 L209.93,33.05 L210.14,32.93 L210.35,32.81 L210.56,32.70 L210.77,32.58 L210.98,32.47 L211.19,32.36 L211.40,32.25 L211.61,32.14 L211.82,32.03 L212.03,31.92 L212.24,31.82 L212.45,31.71 L212.65,31.61 L212.86,31.51 L213.07,31.40 L213.28,31.30 L213.49,31.20 L213.70,31.11 L213.91,31.01 L214.12,30.91 L214.33,30.82 L214.54,30.72 L214.75,30.63 L214.96,30.53 L215.17,30.44 L215.38,30.35 L215.59,30.26 L215.80,30.17 L216.01,30.09 L216.22,30.00 L216.43,29.91 L216.64,29.83 L216.85,29.75 L217.06,29.66 L217.27,29.58 L217.48,29.50 L217.69,29.42 L217.90,29.34 L218.11,29.26 L218.32,29.19 L218.53,29.11 L218.74,29.03 L218.95,28.96 L219.16,28.89 L219.37,28.81 L219.57,28.74 L219.78,28.67 L219.99,28.60 L220.20,28.53 L220.41,28.46 L220.62,28.40 L220.83,28.33 L221.04,28.27 L221.25,28.20 L221.46,28.14 L221.67,28.07 L221.88,28.01 L222.09,27.95 L222.30,27.89 L222.51,27.83 L222.72,27.77 L222.93,27.71 L223.14,27.66 L223.35,27.60 L223.56,27.54 L223.77,27.49 L223.98,27.44 L224.19,27.38 L224.40,27.33 L224.61,27.28 L224.82,27.23 L225.03,27.18 L225.24,27.13 L225.45,27.08 L225.66,27.03 L225.87,26.99 L226.08,26.94 L226.29,26.89 L226.49,26.85 L226.70,26.81 L226.91,26.76 L227.12,26.72 L227.33,26.68 L227.54,26.64 L227.75,26.60 L227.96,26.56 L228.17,26.52 L228.38,26.48 L228.59,26.44 L228.80,26.40 L229.01,26.37 L229.22,26.33 L229.43,26.30 L229.64,26.26 L229.85,26.23 L230.06,26.20 L230.27,26.16 L230.48,26.13 L230.69,26.10 L230.90,26.07 L231.11,26.04 L231.32,26.01 L231.53,25.98 L231.74,25.95 L231.95,25.93 L232.16,25.90 L232.37,25.87 L232.58,25.85 L232.79,25.82 L233.00,25.80 L233.21,25.77 L233.42,25.75 L233.62,25.73 L233.83,25.71 L234.04,25.68 L234.25,25.66 L234.46,25.64 L234.67,25.62 L234.88,25.60 L235.09,25.58 L235.30,25.57 L235.51,25.55 L235.72,25.53 L235.93,25.51 L236.14,25.50 L236.35,25.48 L236.56,25.47 L236.77,25.45 L236.98,25.44 L237.19,25.42 L237.40,25.41 L237.61,25.40 L237.82,25.38 L238.03,25.37 L238.24,25.36 L238.45,25.35 L238.66,25.34 L238.87,25.33 L239.08,25.32 L239.29,25.31 L239.50,25.30 L239.71,25.29 L239.92,25.28 L240.13,25.27 L240.34,25.27 L240.54,25.26 L240.75,25.25 L240.96,25.25 L241.17,25.24 L241.38,25.24 L241.59,25.23 L241.80,25.23 L242.01,25.22 L242.22,25.22 L242.43,25.21 L242.64,25.21 L242.85,25.21 L243.06,25.20 L243.27,25.20 L243.48,25.20 L243.69,25.20 L243.90,25.20" fill="none" stroke="#F7C4A0" stroke-width="1.8"/>
<line x1="506.3" y1="75.2" x2="506.3" y2="20.6" stroke="#000" stroke-width="1.8"/>
<polygon points="506.30,11.10 501.50,21.10 511.10,21.10" fill="#000"/>
<line x1="505.40000000000003" y1="74.3" x2="581.2" y2="74.3" stroke="#000" stroke-width="1.8"/>
<polygon points="590.70,74.30 580.70,69.50 580.70,79.10" fill="#000"/>
<path d="M507.00,61.83 L507.21,61.52 L507.42,61.21 L507.63,60.90 L507.84,60.60 L508.06,60.30 L508.27,59.99 L508.48,59.69 L508.69,59.39 L508.90,59.10 L509.11,58.80 L509.32,58.51 L509.53,58.22 L509.74,57.92 L509.95,57.64 L510.17,57.35 L510.38,57.06 L510.59,56.78 L510.80,56.49 L511.01,56.21 L511.22,55.93 L511.43,55.66 L511.64,55.38 L511.85,55.10 L512.06,54.83 L512.28,54.56 L512.49,54.29 L512.70,54.02 L512.91,53.75 L513.12,53.49 L513.33,53.22 L513.54,52.96 L513.75,52.70 L513.96,52.44 L514.18,52.18 L514.39,51.92 L514.60,51.67 L514.81,51.41 L515.02,51.16 L515.23,50.91 L515.44,50.66 L515.65,50.41 L515.86,50.17 L516.07,49.92 L516.29,49.68 L516.50,49.44 L516.71,49.19 L516.92,48.96 L517.13,48.72 L517.34,48.48 L517.55,48.25 L517.76,48.01 L517.97,47.78 L518.18,47.55 L518.40,47.32 L518.61,47.09 L518.82,46.87 L519.03,46.64 L519.24,46.42 L519.45,46.20 L519.66,45.98 L519.87,45.76 L520.08,45.54 L520.30,45.33 L520.51,45.11 L520.72,44.90 L520.93,44.68 L521.14,44.47 L521.35,44.26 L521.56,44.06 L521.77,43.85 L521.98,43.64 L522.19,43.44 L522.41,43.24 L522.62,43.04 L522.83,42.84 L523.04,42.64 L523.25,42.44 L523.46,42.25 L523.67,42.05 L523.88,41.86 L524.09,41.67 L524.31,41.48 L524.52,41.29 L524.73,41.10 L524.94,40.91 L525.15,40.73 L525.36,40.54 L525.57,40.36 L525.78,40.18 L525.99,40.00 L526.20,39.82 L526.42,39.65 L526.63,39.47 L526.84,39.29 L527.05,39.12 L527.26,38.95 L527.47,38.78 L527.68,38.61 L527.89,38.44 L528.10,38.27 L528.31,38.11 L528.53,37.94 L528.74,37.78 L528.95,37.62 L529.16,37.46 L529.37,37.30 L529.58,37.14 L529.79,36.98 L530.00,36.82 L530.21,36.67 L530.43,36.52 L530.64,36.36 L530.85,36.21 L531.06,36.06 L531.27,35.91 L531.48,35.77 L531.69,35.62 L531.90,35.48 L532.11,35.33 L532.32,35.19 L532.54,35.05 L532.75,34.91 L532.96,34.77 L533.17,34.63 L533.38,34.49 L533.59,34.36 L533.80,34.22 L534.01,34.09 L534.22,33.96 L534.43,33.83 L534.65,33.70 L534.86,33.57 L535.07,33.44 L535.28,33.31 L535.49,33.19 L535.70,33.07 L535.91,32.94 L536.12,32.82 L536.33,32.70 L536.55,32.58 L536.76,32.46 L536.97,32.34 L537.18,32.23 L537.39,32.11 L537.60,32.00 L537.81,31.88 L538.02,31.77 L538.23,31.66 L538.44,31.55 L538.66,31.44 L538.87,31.34 L539.08,31.23 L539.29,31.12 L539.50,31.02 L539.71,30.92 L539.92,30.81 L540.13,30.71 L540.34,30.61 L540.55,30.51 L540.77,30.41 L540.98,30.32 L541.19,30.22 L541.40,30.13 L541.61,30.03 L541.82,29.94 L542.03,29.85 L542.24,29.76 L542.45,29.67 L542.67,29.58 L542.88,29.49 L543.09,29.40 L543.30,29.32 L543.51,29.23 L543.72,29.15 L543.93,29.06 L544.14,28.98 L544.35,28.90 L544.56,28.82 L544.78,28.74 L544.99,28.66 L545.20,28.59 L545.41,28.51 L545.62,28.43 L545.83,28.36 L546.04,28.29 L546.25,28.21 L546.46,28.14 L546.67,28.07 L546.89,28.00 L547.10,27.93 L547.31,27.87 L547.52,27.80 L547.73,27.73 L547.94,27.67 L548.15,27.60 L548.36,27.54 L548.57,27.48 L548.79,27.42 L549.00,27.36 L549.21,27.30 L549.42,27.24 L549.63,27.18 L549.84,27.12 L550.05,27.07 L550.26,27.01 L550.47,26.96 L550.68,26.90 L550.90,26.85 L551.11,26.80 L551.32,26.75 L551.53,26.70 L551.74,26.65 L551.95,26.60 L552.16,26.55 L552.37,26.51 L552.58,26.46 L552.79,26.42 L553.01,26.37 L553.22,26.33 L553.43,26.29 L553.64,26.24 L553.85,26.20 L554.06,26.16 L554.27,26.12 L554.48,26.09 L554.69,26.05 L554.91,26.01 L555.12,25.97 L555.33,25.94 L555.54,25.90 L555.75,25.87 L555.96,25.84 L556.17,25.81 L556.38,25.77 L556.59,25.74 L556.80,25.71 L557.02,25.68 L557.23,25.66 L557.44,25.63 L557.65,25.60 L557.86,25.57 L558.07,25.55 L558.28,25.52 L558.49,25.50 L558.70,25.48 L558.92,25.45 L559.13,25.43 L559.34,25.41 L559.55,25.39 L559.76,25.37 L559.97,25.35 L560.18,25.33 L560.39,25.32 L560.60,25.30 L560.81,25.28 L561.03,25.27 L561.24,25.25 L561.45,25.24 L561.66,25.23 L561.87,25.21 L562.08,25.20 L562.29,25.19 L562.50,25.18 L562.71,25.17 L562.92,25.16 L563.14,25.15 L563.35,25.14 L563.56,25.13 L563.77,25.13 L563.98,25.12 L564.19,25.11 L564.40,25.11 L564.61,25.10 L564.82,25.10 L565.04,25.10 L565.25,25.09 L565.46,25.09 L565.67,25.09 L565.88,25.09 L566.09,25.09 L566.30,25.09 L566.51,25.09 L566.72,25.09 L566.93,25.10 L567.15,25.10 L567.36,25.10 L567.57,25.10 L567.78,25.11 L567.99,25.11 L568.20,25.12 L568.41,25.13 L568.62,25.13 L568.83,25.14 L569.04,25.15 L569.26,25.16 L569.47,25.16 L569.68,25.17 L569.89,25.18 L570.10,25.19" fill="none" stroke="#A6A6A6" stroke-width="1.8"/>
<line x1="351.8" y1="217.0" x2="351.8" y2="162.2" stroke="#2F7C9E" stroke-width="1.8"/>
<polygon points="351.80,152.70 347.00,162.70 356.60,162.70" fill="#2F7C9E"/>
<line x1="350.90000000000003" y1="216.1" x2="426.8" y2="216.1" stroke="#2F7C9E" stroke-width="1.8"/>
<polygon points="436.30,216.10 426.30,211.30 426.30,220.90" fill="#2F7C9E"/>
<path d="M353.00,202.99 L353.21,202.66 L353.42,202.33 L353.63,202.01 L353.84,201.69 L354.05,201.36 L354.26,201.04 L354.47,200.73 L354.68,200.41 L354.89,200.10 L355.10,199.78 L355.31,199.47 L355.52,199.16 L355.73,198.86 L355.94,198.55 L356.15,198.25 L356.36,197.95 L356.57,197.65 L356.78,197.35 L356.99,197.05 L357.20,196.76 L357.41,196.47 L357.62,196.18 L357.83,195.89 L358.04,195.60 L358.25,195.32 L358.46,195.03 L358.67,194.75 L358.88,194.47 L359.09,194.19 L359.30,193.92 L359.51,193.64 L359.72,193.37 L359.93,193.10 L360.14,192.83 L360.35,192.56 L360.56,192.29 L360.77,192.03 L360.98,191.77 L361.19,191.51 L361.40,191.25 L361.61,190.99 L361.82,190.73 L362.03,190.48 L362.24,190.23 L362.45,189.98 L362.66,189.73 L362.87,189.48 L363.08,189.24 L363.29,188.99 L363.50,188.75 L363.71,188.51 L363.92,188.27 L364.13,188.03 L364.34,187.80 L364.55,187.56 L364.76,187.33 L364.97,187.10 L365.18,186.87 L365.39,186.64 L365.60,186.41 L365.81,186.19 L366.02,185.97 L366.23,185.74 L366.44,185.52 L366.65,185.31 L366.86,185.09 L367.07,184.87 L367.28,184.66 L367.49,184.45 L367.70,184.24 L367.91,184.03 L368.12,183.82 L368.33,183.62 L368.54,183.41 L368.75,183.21 L368.96,183.01 L369.17,182.81 L369.38,182.61 L369.59,182.41 L369.80,182.22 L370.01,182.02 L370.22,181.83 L370.43,181.64 L370.64,181.45 L370.85,181.26 L371.06,181.07 L371.27,180.89 L371.48,180.71 L371.69,180.52 L371.90,180.34 L372.11,180.16 L372.32,179.98 L372.53,179.81 L372.74,179.63 L372.95,179.46 L373.16,179.29 L373.37,179.12 L373.58,178.95 L373.79,178.78 L374.00,178.61 L374.21,178.45 L374.42,178.28 L374.63,178.12 L374.84,177.96 L375.05,177.80 L375.26,177.64 L375.47,177.48 L375.68,177.33 L375.89,177.17 L376.10,177.02 L376.31,176.87 L376.52,176.72 L376.73,176.57 L376.94,176.42 L377.15,176.27 L377.36,176.13 L377.57,175.98 L377.78,175.84 L377.99,175.70 L378.20,175.56 L378.41,175.42 L378.62,175.28 L378.83,175.15 L379.04,175.01 L379.25,174.88 L379.46,174.75 L379.67,174.61 L379.88,174.48 L380.09,174.35 L380.30,174.23 L380.51,174.10 L380.72,173.98 L380.93,173.85 L381.14,173.73 L381.35,173.61 L381.56,173.49 L381.77,173.37 L381.98,173.25 L382.19,173.13 L382.40,173.02 L382.61,172.90 L382.82,172.79 L383.03,172.68 L383.24,172.57 L383.45,172.46 L383.66,172.35 L383.87,172.24 L384.08,172.13 L384.29,172.03 L384.51,171.92 L384.72,171.82 L384.93,171.72 L385.14,171.62 L385.35,171.52 L385.56,171.42 L385.77,171.32 L385.98,171.23 L386.19,171.13 L386.40,171.04 L386.61,170.94 L386.82,170.85 L387.03,170.76 L387.24,170.67 L387.45,170.58 L387.66,170.49 L387.87,170.41 L388.08,170.32 L388.29,170.24 L388.50,170.15 L388.71,170.07 L388.92,169.99 L389.13,169.91 L389.34,169.83 L389.55,169.75 L389.76,169.67 L389.97,169.59 L390.18,169.52 L390.39,169.44 L390.60,169.37 L390.81,169.30 L391.02,169.22 L391.23,169.15 L391.44,169.08 L391.65,169.01 L391.86,168.94 L392.07,168.88 L392.28,168.81 L392.49,168.75 L392.70,168.68 L392.91,168.62 L393.12,168.56 L393.33,168.49 L393.54,168.43 L393.75,168.37 L393.96,168.31 L394.17,168.26 L394.38,168.20 L394.59,168.14 L394.80,168.09 L395.01,168.03 L395.22,167.98 L395.43,167.92 L395.64,167.87 L395.85,167.82 L396.06,167.77 L396.27,167.72 L396.48,167.67 L396.69,167.62 L396.90,167.58 L397.11,167.53 L397.32,167.48 L397.53,167.44 L397.74,167.40 L397.95,167.35 L398.16,167.31 L398.37,167.27 L398.58,167.23 L398.79,167.19 L399.00,167.15 L399.21,167.11 L399.42,167.07 L399.63,167.03 L399.84,167.00 L400.05,166.96 L400.26,166.93 L400.47,166.89 L400.68,166.86 L400.89,166.83 L401.10,166.80 L401.31,166.76 L401.52,166.73 L401.73,166.70 L401.94,166.67 L402.15,166.65 L402.36,166.62 L402.57,166.59 L402.78,166.56 L402.99,166.54 L403.20,166.51 L403.41,166.49 L403.62,166.46 L403.83,166.44 L404.04,166.42 L404.25,166.40 L404.46,166.38 L404.67,166.35 L404.88,166.33 L405.09,166.31 L405.30,166.30 L405.51,166.28 L405.72,166.26 L405.93,166.24 L406.14,166.23 L406.35,166.21 L406.56,166.19 L406.77,166.18 L406.98,166.17 L407.19,166.15 L407.40,166.14 L407.61,166.13 L407.82,166.11 L408.03,166.10 L408.24,166.09 L408.45,166.08 L408.66,166.07 L408.87,166.06 L409.08,166.05 L409.29,166.04 L409.50,166.04 L409.71,166.03 L409.92,166.02 L410.13,166.01 L410.34,166.01 L410.55,166.00 L410.76,166.00 L410.97,165.99 L411.18,165.99 L411.39,165.99 L411.60,165.98 L411.81,165.98 L412.02,165.98 L412.23,165.97 L412.44,165.97 L412.65,165.97 L412.86,165.97 L413.07,165.97 L413.28,165.97 L413.49,165.97 L413.70,165.97 L413.91,165.97 L414.12,165.98 L414.33,165.98 L414.54,165.98 L414.75,165.98 L414.96,165.99 L415.17,165.99 L415.38,165.99 L415.59,166.00 L415.80,166.00" fill="none" stroke="#7DBBDA" stroke-width="1.8"/>
<line x1="352.5" y1="313.2" x2="352.5" y2="256.9" stroke="#2F7C9E" stroke-width="1.8"/>
<polygon points="352.50,247.40 347.70,257.40 357.30,257.40" fill="#2F7C9E"/>
<line x1="351.6" y1="312.3" x2="427.9" y2="312.3" stroke="#2F7C9E" stroke-width="1.8"/>
<polygon points="437.40,312.30 427.40,307.50 427.40,317.10" fill="#2F7C9E"/>
<path d="M353.20,262.35 L353.41,262.71 L353.62,263.07 L353.83,263.42 L354.04,263.77 L354.26,264.13 L354.47,264.47 L354.68,264.82 L354.89,265.17 L355.10,265.51 L355.31,265.85 L355.52,266.19 L355.73,266.52 L355.94,266.86 L356.15,267.19 L356.37,267.52 L356.58,267.85 L356.79,268.18 L357.00,268.50 L357.21,268.83 L357.42,269.15 L357.63,269.47 L357.84,269.78 L358.05,270.10 L358.26,270.41 L358.48,270.72 L358.69,271.03 L358.90,271.34 L359.11,271.65 L359.32,271.95 L359.53,272.25 L359.74,272.55 L359.95,272.85 L360.16,273.15 L360.38,273.44 L360.59,273.73 L360.80,274.03 L361.01,274.31 L361.22,274.60 L361.43,274.89 L361.64,275.17 L361.85,275.45 L362.06,275.73 L362.27,276.01 L362.49,276.29 L362.70,276.56 L362.91,276.83 L363.12,277.10 L363.33,277.37 L363.54,277.64 L363.75,277.91 L363.96,278.17 L364.17,278.43 L364.38,278.69 L364.60,278.95 L364.81,279.21 L365.02,279.46 L365.23,279.72 L365.44,279.97 L365.65,280.22 L365.86,280.47 L366.07,280.71 L366.28,280.96 L366.50,281.20 L366.71,281.44 L366.92,281.68 L367.13,281.92 L367.34,282.16 L367.55,282.39 L367.76,282.62 L367.97,282.86 L368.18,283.08 L368.39,283.31 L368.61,283.54 L368.82,283.76 L369.03,283.99 L369.24,284.21 L369.45,284.43 L369.66,284.65 L369.87,284.87 L370.08,285.08 L370.29,285.29 L370.51,285.51 L370.72,285.72 L370.93,285.93 L371.14,286.13 L371.35,286.34 L371.56,286.54 L371.77,286.75 L371.98,286.95 L372.19,287.15 L372.40,287.35 L372.62,287.54 L372.83,287.74 L373.04,287.93 L373.25,288.12 L373.46,288.31 L373.67,288.50 L373.88,288.69 L374.09,288.88 L374.30,289.06 L374.51,289.25 L374.73,289.43 L374.94,289.61 L375.15,289.79 L375.36,289.97 L375.57,290.14 L375.78,290.32 L375.99,290.49 L376.20,290.66 L376.41,290.83 L376.63,291.00 L376.84,291.17 L377.05,291.33 L377.26,291.50 L377.47,291.66 L377.68,291.82 L377.89,291.99 L378.10,292.14 L378.31,292.30 L378.52,292.46 L378.74,292.61 L378.95,292.77 L379.16,292.92 L379.37,293.07 L379.58,293.22 L379.79,293.37 L380.00,293.52 L380.21,293.66 L380.42,293.81 L380.63,293.95 L380.85,294.09 L381.06,294.24 L381.27,294.37 L381.48,294.51 L381.69,294.65 L381.90,294.79 L382.11,294.92 L382.32,295.05 L382.53,295.19 L382.75,295.32 L382.96,295.45 L383.17,295.57 L383.38,295.70 L383.59,295.83 L383.80,295.95 L384.01,296.08 L384.22,296.20 L384.43,296.32 L384.64,296.44 L384.86,296.56 L385.07,296.68 L385.28,296.79 L385.49,296.91 L385.70,297.02 L385.91,297.13 L386.12,297.25 L386.33,297.36 L386.54,297.47 L386.75,297.58 L386.97,297.68 L387.18,297.79 L387.39,297.89 L387.60,298.00 L387.81,298.10 L388.02,298.20 L388.23,298.30 L388.44,298.40 L388.65,298.50 L388.87,298.60 L389.08,298.70 L389.29,298.79 L389.50,298.89 L389.71,298.98 L389.92,299.07 L390.13,299.16 L390.34,299.25 L390.55,299.34 L390.76,299.43 L390.98,299.52 L391.19,299.60 L391.40,299.69 L391.61,299.77 L391.82,299.86 L392.03,299.94 L392.24,300.02 L392.45,300.10 L392.66,300.18 L392.87,300.26 L393.09,300.34 L393.30,300.41 L393.51,300.49 L393.72,300.56 L393.93,300.64 L394.14,300.71 L394.35,300.78 L394.56,300.85 L394.77,300.92 L394.99,300.99 L395.20,301.06 L395.41,301.13 L395.62,301.19 L395.83,301.26 L396.04,301.32 L396.25,301.39 L396.46,301.45 L396.67,301.51 L396.88,301.58 L397.10,301.64 L397.31,301.70 L397.52,301.76 L397.73,301.81 L397.94,301.87 L398.15,301.93 L398.36,301.98 L398.57,302.04 L398.78,302.09 L398.99,302.15 L399.21,302.20 L399.42,302.25 L399.63,302.30 L399.84,302.35 L400.05,302.40 L400.26,302.45 L400.47,302.50 L400.68,302.55 L400.89,302.59 L401.11,302.64 L401.32,302.68 L401.53,302.73 L401.74,302.77 L401.95,302.81 L402.16,302.86 L402.37,302.90 L402.58,302.94 L402.79,302.98 L403.00,303.02 L403.22,303.06 L403.43,303.10 L403.64,303.13 L403.85,303.17 L404.06,303.21 L404.27,303.24 L404.48,303.28 L404.69,303.31 L404.90,303.35 L405.12,303.38 L405.33,303.41 L405.54,303.44 L405.75,303.48 L405.96,303.51 L406.17,303.54 L406.38,303.57 L406.59,303.60 L406.80,303.62 L407.01,303.65 L407.23,303.68 L407.44,303.71 L407.65,303.73 L407.86,303.76 L408.07,303.78 L408.28,303.81 L408.49,303.83 L408.70,303.86 L408.91,303.88 L409.12,303.90 L409.34,303.93 L409.55,303.95 L409.76,303.97 L409.97,303.99 L410.18,304.01 L410.39,304.03 L410.60,304.05 L410.81,304.07 L411.02,304.09 L411.24,304.11 L411.45,304.12 L411.66,304.14 L411.87,304.16 L412.08,304.17 L412.29,304.19 L412.50,304.21 L412.71,304.22 L412.92,304.24 L413.13,304.25 L413.35,304.26 L413.56,304.28 L413.77,304.29 L413.98,304.30 L414.19,304.32 L414.40,304.33 L414.61,304.34 L414.82,304.35 L415.03,304.36 L415.24,304.37 L415.46,304.38 L415.67,304.39 L415.88,304.40 L416.09,304.41 L416.30,304.42" fill="none" stroke="#7DBBDA" stroke-width="1.8"/>
<defs>
<linearGradient id="gr" x1="150" y1="75.5" x2="127" y2="98.5" gradientUnits="userSpaceOnUse">
<stop offset="0" stop-color="#CC3A32"/><stop offset="0.3" stop-color="#DA6B64"/><stop offset="0.75" stop-color="#FFFFFF"/><stop offset="1" stop-color="#FFFFFF"/></linearGradient>
<linearGradient id="gb" x1="0" y1="246.4" x2="0" y2="269" gradientUnits="userSpaceOnUse">
<stop offset="0" stop-color="#2A6F8F"/><stop offset="0.5" stop-color="#8DB8CB"/><stop offset="1" stop-color="#FFFFFF"/></linearGradient>
</defs>
<polygon points="149.30,75.80 130.10,74.60 135.00,79.60 124.00,90.60 135.60,101.60 146.00,91.30 150.50,95.90" fill="url(#gr)"/>
<polygon points="391.50,246.40 374.90,257.80 383.00,257.80 383.00,270.00 399.80,270.00 399.80,257.80 407.80,257.80" fill="url(#gb)"/>
<text x="21.33" y="384.90" font-family='"Liberation Sans", sans-serif' font-weight="normal" font-style="normal" font-size="16.86" fill="#000" textLength="9.54" lengthAdjust="spacingAndGlyphs">0</text>
<text x="177.28" y="384.90" font-family='"Liberation Sans", sans-serif' font-weight="normal" font-style="normal" font-size="16.86" fill="#000" textLength="22.12" lengthAdjust="spacingAndGlyphs">0.2</text>
<text x="338.97" y="384.90" font-family='"Liberation Sans", sans-serif' font-weight="normal" font-style="normal" font-size="16.86" fill="#000" textLength="22.51" lengthAdjust="spacingAndGlyphs">0.4</text>
<text x="500.75" y="384.90" font-family='"Liberation Sans", sans-serif' font-weight="normal" font-style="normal" font-size="16.86" fill="#000" textLength="23.29" lengthAdjust="spacingAndGlyphs">0.6</text>
<text x="662.85" y="384.90" font-family='"Liberation Sans", sans-serif' font-weight="normal" font-style="normal" font-size="16.86" fill="#000" textLength="23.28" lengthAdjust="spacingAndGlyphs">0.8</text>
<text x="364.94" y="404.10" font-family='"Liberation Sans", sans-serif' font-weight="normal" font-style="normal" font-size="17.73" fill="#000" textLength="22.22" lengthAdjust="spacingAndGlyphs">RH</text>
<text x="14.15" y="305.30" font-family='"Liberation Sans", sans-serif' font-weight="normal" font-style="normal" font-size="17.30" fill="#000" textLength="22.26" lengthAdjust="spacingAndGlyphs" transform="rotate(-90 14.9 305.3)">CO</text>
<text x="18.58" y="281.50" font-family='"Liberation Sans", sans-serif' font-weight="normal" font-style="normal" font-size="9.74" fill="#000" textLength="7.94" lengthAdjust="spacingAndGlyphs" transform="rotate(-90 19.3 281.5)">2</text>
<text x="14.86" y="270.80" font-family='"Liberation Sans", sans-serif' font-weight="normal" font-style="normal" font-size="17.30" fill="#000" textLength="163.97" lengthAdjust="spacingAndGlyphs" transform="rotate(-90 14.9 270.8)">Adsorption Capacity</text>
<text x="301.04" y="80.50" font-family='"Liberation Sans", sans-serif' font-weight="bold" font-style="normal" font-size="12.35" fill="#000" textLength="51.32" lengthAdjust="spacingAndGlyphs">total CO</text>
<text x="351.98" y="83.60" font-family='"Liberation Sans", sans-serif' font-weight="bold" font-style="normal" font-size="9.74" fill="#000" textLength="5.20" lengthAdjust="spacingAndGlyphs">2</text>
<text x="300.15" y="98.40" font-family='"Liberation Sans", sans-serif' font-weight="bold" font-style="normal" font-size="12.35" fill="#000" textLength="42.95" lengthAdjust="spacingAndGlyphs">intake,</text>
<text x="348.03" y="98.40" font-family='"Liberation Serif", serif' font-weight="bold" font-style="italic" font-size="13.89" fill="#000" stroke="#000" stroke-width="0.6" textLength="5.19" lengthAdjust="spacingAndGlyphs">I</text>
<text x="353.77" y="100.90" font-family='"Liberation Serif", serif' font-weight="bold" font-style="italic" font-size="10.80" fill="#000" textLength="26.15" lengthAdjust="spacingAndGlyphs">total</text>
<text x="43.35" y="251.10" font-family='"Liberation Sans", sans-serif' font-weight="bold" font-style="normal" font-size="12.35" fill="#D2503B" textLength="20.22" lengthAdjust="spacingAndGlyphs">CO</text>
<text x="63.42" y="253.50" font-family='"Liberation Sans", sans-serif' font-weight="bold" font-style="normal" font-size="9.16" fill="#D2503B" textLength="4.51" lengthAdjust="spacingAndGlyphs">2</text>
<text x="69.99" y="251.10" font-family='"Liberation Sans", sans-serif' font-weight="bold" font-style="normal" font-size="12.35" fill="#D2503B" textLength="56.79" lengthAdjust="spacingAndGlyphs">intake by</text>
<text x="43.17" y="269.80" font-family='"Liberation Sans", sans-serif' font-weight="bold" font-style="normal" font-size="12.35" fill="#D2503B" textLength="55.88" lengthAdjust="spacingAndGlyphs">gas/solid</text>
<text x="43.27" y="286.90" font-family='"Liberation Sans", sans-serif' font-weight="bold" font-style="normal" font-size="12.35" fill="#D2503B" textLength="71.82" lengthAdjust="spacingAndGlyphs">interaction,</text>
<text x="44.60" y="305.40" font-family='"Liberation Serif", serif' font-weight="bold" font-style="italic" font-size="14.66" fill="#D2503B" stroke="#D2503B" stroke-width="0.6" textLength="4.01" lengthAdjust="spacingAndGlyphs">I</text>
<text x="50.36" y="307.70" font-family='"Liberation Serif", serif' font-weight="bold" font-style="italic" font-size="11.00" fill="#D2503B" textLength="20.97" lengthAdjust="spacingAndGlyphs">g−s</text>
<text x="215.34" y="179.50" font-family='"Liberation Sans", sans-serif' font-weight="bold" font-style="normal" font-size="12.35" fill="#2F7C9E" textLength="20.64" lengthAdjust="spacingAndGlyphs">CO</text>
<text x="235.63" y="182.00" font-family='"Liberation Sans", sans-serif' font-weight="bold" font-style="normal" font-size="9.16" fill="#2F7C9E" textLength="4.27" lengthAdjust="spacingAndGlyphs">2</text>
<text x="242.39" y="179.50" font-family='"Liberation Sans", sans-serif' font-weight="bold" font-style="normal" font-size="12.35" fill="#2F7C9E" textLength="56.38" lengthAdjust="spacingAndGlyphs">intake by</text>
<text x="215.15" y="197.80" font-family='"Liberation Sans", sans-serif' font-weight="bold" font-style="normal" font-size="12.35" fill="#2F7C9E" textLength="63.04" lengthAdjust="spacingAndGlyphs">gas/liquid</text>
<text x="215.27" y="215.90" font-family='"Liberation Sans", sans-serif' font-weight="bold" font-style="normal" font-size="12.35" fill="#2F7C9E" textLength="71.82" lengthAdjust="spacingAndGlyphs">interaction,</text>
<text x="216.62" y="234.90" font-family='"Liberation Serif", serif' font-weight="bold" font-style="italic" font-size="14.66" fill="#2F7C9E" stroke="#2F7C9E" stroke-width="0.6" textLength="4.83" lengthAdjust="spacingAndGlyphs">I</text>
<text x="222.95" y="237.20" font-family='"Liberation Serif", serif' font-weight="bold" font-style="italic" font-size="11.00" fill="#2F7C9E" textLength="18.77" lengthAdjust="spacingAndGlyphs">g−l</text>
<text x="464.30" y="244.80" font-family='"Liberation Sans", sans-serif' font-weight="normal" font-style="normal" font-size="13.20" fill="#2F7C9E" textLength="78.13" lengthAdjust="spacingAndGlyphs">critical water</text>
<text x="464.30" y="262.70" font-family='"Liberation Sans", sans-serif' font-weight="normal" font-style="normal" font-size="13.20" fill="#2F7C9E" textLength="67.24" lengthAdjust="spacingAndGlyphs">content for</text>
<text x="464.32" y="280.70" font-family='"Liberation Sans", sans-serif' font-weight="normal" font-style="normal" font-size="13.20" fill="#2F7C9E" textLength="50.21" lengthAdjust="spacingAndGlyphs">capillary</text>
<text x="464.31" y="298.80" font-family='"Liberation Sans", sans-serif' font-weight="normal" font-style="normal" font-size="13.20" fill="#2F7C9E" textLength="86.54" lengthAdjust="spacingAndGlyphs">condensation,</text>
<text x="463.83" y="317.00" font-family='"Liberation Serif", serif' font-weight="normal" font-style="italic" font-size="15.42" fill="#2F7C9E" textLength="13.54" lengthAdjust="spacingAndGlyphs">W</text>
<text x="475.23" y="320.60" font-family='"Liberation Serif", serif' font-weight="normal" font-style="italic" font-size="12.00" fill="#2F7C9E" textLength="5.30" lengthAdjust="spacingAndGlyphs">c</text>
<text x="85.21" y="178.60" font-family='"Liberation Sans", sans-serif' font-weight="normal" font-style="normal" font-size="13.52" fill="#D2503B" textLength="63.05" lengthAdjust="spacingAndGlyphs">Ca/Si ratio</text>
<text x="50.09" y="169.00" font-family='"Liberation Sans", sans-serif' font-weight="normal" font-style="normal" font-size="13.95" fill="#D2503B" textLength="17.88" lengthAdjust="spacingAndGlyphs" transform="rotate(-90 50.7 169)">CO</text>
<text x="52.98" y="151.80" font-family='"Liberation Sans", sans-serif' font-weight="normal" font-style="normal" font-size="8.72" fill="#D2503B" textLength="4.64" lengthAdjust="spacingAndGlyphs" transform="rotate(-90 53.4 151.8)">2</text>
<text x="50.70" y="148.00" font-family='"Liberation Sans", sans-serif' font-weight="normal" font-style="normal" font-size="13.95" fill="#D2503B" textLength="50.63" lengthAdjust="spacingAndGlyphs" transform="rotate(-90 50.7 148)">/surface</text>
<text x="66.64" y="168.50" font-family='"Liberation Sans", sans-serif' font-weight="normal" font-style="normal" font-size="13.95" fill="#D2503B" textLength="65.88" lengthAdjust="spacingAndGlyphs" transform="rotate(-90 67.6 168.5)">interaction</text>
<text x="188.21" y="94.00" font-family='"Liberation Sans", sans-serif' font-weight="normal" font-style="normal" font-size="12.79" fill="#D2503B" textLength="63.67" lengthAdjust="spacingAndGlyphs">Ca/Si ratio</text>
<text x="147.56" y="55.20" font-family='"Liberation Serif", serif' font-weight="normal" font-style="italic" font-size="14.96" fill="#D2503B" textLength="5.23" lengthAdjust="spacingAndGlyphs">I</text>
<text x="153.15" y="49.30" font-family='"Liberation Serif", serif' font-weight="normal" font-style="italic" font-size="10.50" fill="#D2503B" textLength="20.74" lengthAdjust="spacingAndGlyphs">max</text>
<text x="151.19" y="58.50" font-family='"Liberation Serif", serif' font-weight="normal" font-style="italic" font-size="10.80" fill="#D2503B" textLength="20.81" lengthAdjust="spacingAndGlyphs">g−s</text>
<text x="514.32" y="94.00" font-family='"Liberation Sans", sans-serif' font-weight="normal" font-style="normal" font-size="12.79" fill="#000" textLength="62.54" lengthAdjust="spacingAndGlyphs">Ca/Si ratio</text>
<text x="470.25" y="54.90" font-family='"Liberation Serif", serif' font-weight="normal" font-style="italic" font-size="14.50" fill="#000" textLength="4.61" lengthAdjust="spacingAndGlyphs">I</text>
<text x="475.14" y="48.70" font-family='"Liberation Serif", serif' font-weight="normal" font-style="italic" font-size="10.00" fill="#000" textLength="21.15" lengthAdjust="spacingAndGlyphs">max</text>
<text x="474.63" y="57.60" font-family='"Liberation Serif", serif' font-weight="normal" font-style="italic" font-size="10.70" fill="#000" textLength="23.65" lengthAdjust="spacingAndGlyphs">total</text>
<text x="330.45" y="196.20" font-family='"Liberation Serif", serif' font-weight="normal" font-style="italic" font-size="15.57" fill="#2F7C9E" textLength="13.24" lengthAdjust="spacingAndGlyphs">W</text>
<text x="341.83" y="199.00" font-family='"Liberation Serif", serif' font-weight="normal" font-style="italic" font-size="12.00" fill="#2F7C9E" textLength="5.30" lengthAdjust="spacingAndGlyphs">c</text>
<text x="360.12" y="231.30" font-family='"Liberation Sans", sans-serif' font-weight="normal" font-style="normal" font-size="12.79" fill="#2F7C9E" textLength="62.44" lengthAdjust="spacingAndGlyphs">Ca/Si ratio</text>
<text x="326.32" y="324.90" font-family='"Liberation Sans", sans-serif' font-weight="normal" font-style="normal" font-size="13.20" fill="#2F7C9E" textLength="83.80" lengthAdjust="spacingAndGlyphs" transform="rotate(-90 326.3 324.9)">water/surface</text>
<text x="343.13" y="315.30" font-family='"Liberation Sans", sans-serif' font-weight="normal" font-style="normal" font-size="13.20" fill="#2F7C9E" textLength="67.01" lengthAdjust="spacingAndGlyphs" transform="rotate(-90 344.1 315.3)">interaction</text>
<text x="360.72" y="327.10" font-family='"Liberation Sans", sans-serif' font-weight="normal" font-style="normal" font-size="12.79" fill="#2F7C9E" textLength="62.85" lengthAdjust="spacingAndGlyphs">Ca/Si ratio</text>
</svg>
</body></html>
